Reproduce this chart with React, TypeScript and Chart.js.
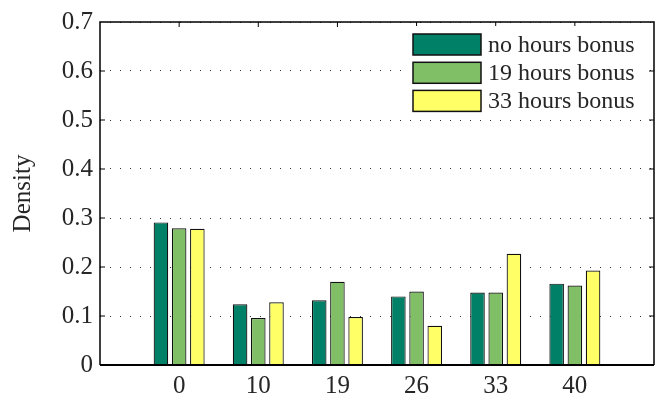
import React, { useEffect, useRef } from 'react';
import { Chart, registerables } from 'chart.js';

Chart.register(...registerables);

const categories = ['0', '10', '19', '26', '33', '40'];
const noBonus = [0.291, 0.124, 0.132, 0.14, 0.148, 0.166];
const bonus19 = [0.279, 0.096, 0.17, 0.15, 0.148, 0.162];
const bonus33 = [0.278, 0.128, 0.098, 0.08, 0.227, 0.193];
const seriesLabels = ['no hours bonus', '19 hours bonus', '33 hours bonus'];
const seriesColors = ['#008066', '#80BF66', '#FFFF66'];
const yTicks = [0, 0.1, 0.2, 0.3, 0.4, 0.5, 0.6, 0.7];
const yTickLabels = ['0', '0.1', '0.2', '0.3', '0.4', '0.5', '0.6', '0.7'];
const yTitle = 'Density';

const FONT = 'Liberation Serif';
const TEXT = '#262626';

Chart.defaults.font.family = FONT;

const pad = (arr: any[], fill: any) => [fill, ...arr, fill];

const axesPlugin = {
  id: 'axesBox',
  afterDatasetsDraw(chart: any) {
    const { ctx, chartArea, scales } = chart;
    const { left, right, top, bottom } = chartArea;
    ctx.save();
    ctx.strokeStyle = '#000';
    ctx.lineWidth = 1.5;
    ctx.beginPath();
    ctx.moveTo(left, bottom);
    ctx.lineTo(left, top);
    ctx.lineTo(right, top);
    ctx.lineTo(right, bottom);
    ctx.stroke();
    ctx.lineWidth = 2;
    ctx.beginPath();
    ctx.moveTo(left, bottom);
    ctx.lineTo(right, bottom);
    ctx.stroke();
    ctx.lineWidth = 1;
    ctx.beginPath();
    yTicks.slice(1, -1).forEach((v) => {
      const y = scales.y.getPixelForValue(v);
      ctx.moveTo(left, y);
      ctx.lineTo(left + 5, y);
      ctx.moveTo(right, y);
      ctx.lineTo(right - 5, y);
    });
    categories.forEach((_, i) => {
      const x = scales.x.getPixelForValue(i + 1);
      ctx.moveTo(x, top);
      ctx.lineTo(x, top + 5);
    });
    ctx.stroke();
    ctx.restore();
  },
};

const legendPlugin = {
  id: 'customLegend',
  afterDraw(chart: any) {
    const { ctx } = chart;
    ctx.save();
    ctx.fillStyle = '#fff';
    ctx.fillRect(408, 26, 238, 88);
    const swX = 413;
    const swW = 68;
    const swH = 21;
    const rowY = [44.5, 72.8, 100.9];
    chart.data.datasets.forEach((ds: any, i: number) => {
      const cy = rowY[i];
      ctx.fillStyle = ds.backgroundColor;
      ctx.fillRect(swX, cy - swH / 2, swW, swH);
      ctx.strokeStyle = '#111';
      ctx.lineWidth = 1.5;
      ctx.strokeRect(swX, cy - swH / 2, swW, swH);
      ctx.fillStyle = TEXT;
      ctx.font = `24px "${FONT}"`;
      ctx.textAlign = 'left';
      ctx.textBaseline = 'middle';
      ctx.fillText(ds.label, 488, cy + 1);
    });
    ctx.restore();
  },
};

export default function App() {
  const canvasRef = useRef<HTMLCanvasElement | null>(null);

  useEffect(() => {
    document.body.style.margin = '0';
    const canvas = canvasRef.current;
    if (!canvas) return;
    const series = [noBonus, bonus19, bonus33];
    const chart = new Chart(canvas, {
      type: 'bar',
      data: {
        labels: pad(categories, ''),
        datasets: series.map((vals, i) => ({
          label: seriesLabels[i],
          data: pad(vals, null),
          backgroundColor: seriesColors[i],
          borderColor: '#111',
          borderWidth: 1.2,
          categoryPercentage: 0.69,
          barPercentage: 0.8,
        })),
      },
      options: {
        responsive: false,
        animation: false,
        devicePixelRatio: 1,
        layout: { padding: { top: 16, right: 0, left: 0, bottom: 0 } },
        plugins: {
          legend: { display: false },
          tooltip: { enabled: false },
        },
        scales: {
          x: {
            type: 'category',
            offset: false,
            grid: { display: false, drawTicks: false },
            border: { display: false },
            ticks: {
              autoSkip: false,
              maxRotation: 0,
              padding: 6,
              color: TEXT,
              font: { family: FONT, size: 25 },
            },
            afterFit: (scale: any) => {
              scale.height = 37;
            },
          },
          y: {
            min: 0,
            max: 0.7,
            grid: { color: '#333', lineWidth: 1, drawTicks: false },
            border: { display: false, dash: [1, 9] },
            afterBuildTicks: (scale: any) => {
              scale.ticks = yTicks.map((v) => ({ value: v }));
            },
            ticks: {
              padding: 7,
              color: TEXT,
              font: { family: FONT, size: 25 },
              callback: (v: any) => {
                const idx = yTicks.findIndex((t) => Math.abs(t - Number(v)) < 1e-9);
                return idx >= 0 ? yTickLabels[idx] : '';
              },
            },
            title: {
              display: true,
              text: yTitle,
              color: TEXT,
              font: { family: FONT, size: 25 },
              padding: { top: 8, bottom: 0 },
            },
            afterFit: (scale: any) => {
              scale.width = 100;
            },
          },
        },
      },
      plugins: [axesPlugin, legendPlugin],
    });
    return () => chart.destroy();
  }, []);

  return (
    <div style={{ width: 660, height: 402 }}>
      <canvas ref={canvasRef} width={660} height={402} style={{ display: 'block' }} />
    </div>
  );
}
